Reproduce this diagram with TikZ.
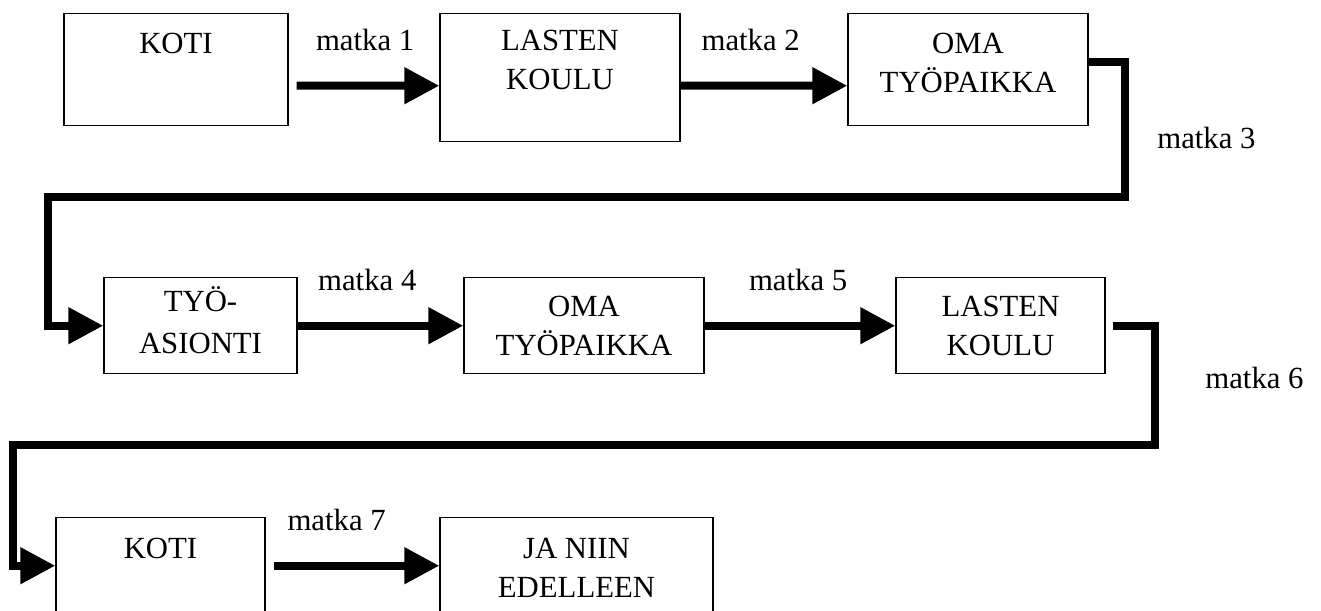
\documentclass[tikz,border=0pt]{standalone}
\usepackage{fontspec}
\setmainfont{Liberation Serif}
\usepackage{tikz}
\usetikzlibrary{arrows.meta}
\tikzset{>={Triangle[length=0.7cm, width=0.7cm]}}

\begin{document}
\begin{tikzpicture}
            \tikzset{paikka/.style = {draw, thick, anchor=north, align=center, inner sep=0pt, font=\fontsize{17.5}{22.2}\selectfont}}
            \tikzset{matka/.style = {line width=0.16cm, ->}}
            \tikzset{nimi/.style = {inner sep=0pt, font=\fontsize{17.5}{22.2}\selectfont}}
            \useasboundingbox (0, 0) rectangle (26.42, -12.2);
            \node[paikka, minimum width=4.48cm, text height=0.8cm, text depth=1.44cm] (koti1) at (3.52, -0.26) {KOTI};
            \node[paikka, minimum width=4.8cm, text height=1.52cm, text depth=1.04cm] (lasten1) at (11.2, -0.26) {LASTEN\\KOULU};
            \node[paikka, minimum width=4.8cm, text height=1.58cm, text depth=0.66cm] (oma1) at (19.36, -0.26) {OMA\\TYÖPAIKKA};
            \node[paikka, minimum width=3.86cm, text height=1.52cm, text depth=0.4cm] (tyo) at (4.01, -5.54) {TYÖ-\\[0.06cm]ASIONTI};
            \node[paikka, minimum width=4.8cm, text height=1.56cm, text depth=0.36cm] (oma2) at (11.68, -5.54) {OMA\\TYÖPAIKKA};
            \node[paikka, minimum width=4.18cm, text height=1.56cm, text depth=0.36cm] (lasten2) at (20.01, -5.54) {LASTEN\\KOULU};
            \node[paikka, minimum width=4.18cm, text height=0.82cm, text depth=1.1cm] (koti3) at (3.21, -10.34) {KOTI};
            \node[paikka, minimum width=5.46cm, text height=1.6cm, text depth=0.32cm] (jatko) at (11.53, -10.34) {JA NIIN\\EDELLEEN};
            \coordinate (k3) at (22.49, -3.93);
            \coordinate (k6) at (23.09, -8.89);
            \draw[matka] ([xshift=0.16cm, yshift=-0.32cm]koti1.east) -- ([yshift=-0.16cm]lasten1.west) node[nimi, pos=0.48, above=0.62cm] (m1) {matka 1};
            \draw[matka] ([yshift=-0.16cm]lasten1.east) -- ([yshift=-0.32cm]oma1.west) node[nimi, pos=0.42, above=0.62cm] (m2) {matka 2};
            \draw[matka] ([yshift=0.15cm]oma1.east) -| (k3) -| ([xshift=-1.11cm]tyo.west) -- (tyo.west);
            \node[nimi, anchor=base west] (m3) at (23.14, -2.96) {matka 3};
            \draw[matka] (tyo.east) -- (oma2.west) node[nimi, pos=0.42, above=0.62cm] (m4) {matka 4};
            \draw[matka] (oma2.east) -- (lasten2.west) node[nimi, pos=0.49, above=0.62cm] (m5) {matka 5};
            \draw[matka] ([xshift=0.14cm]lasten2.east) -| (k6) -| ([xshift=-0.84cm]koti3.west) -- (koti3.west);
            \node[nimi, anchor=base west] (m6) at (24.1, -7.76) {matka 6};
            \draw[matka] ([xshift=0.16cm]koti3.east) -- (jatko.west) node[nimi, pos=0.38, above=0.62cm] (m7) {matka 7};
        \end{tikzpicture}
\end{document}
